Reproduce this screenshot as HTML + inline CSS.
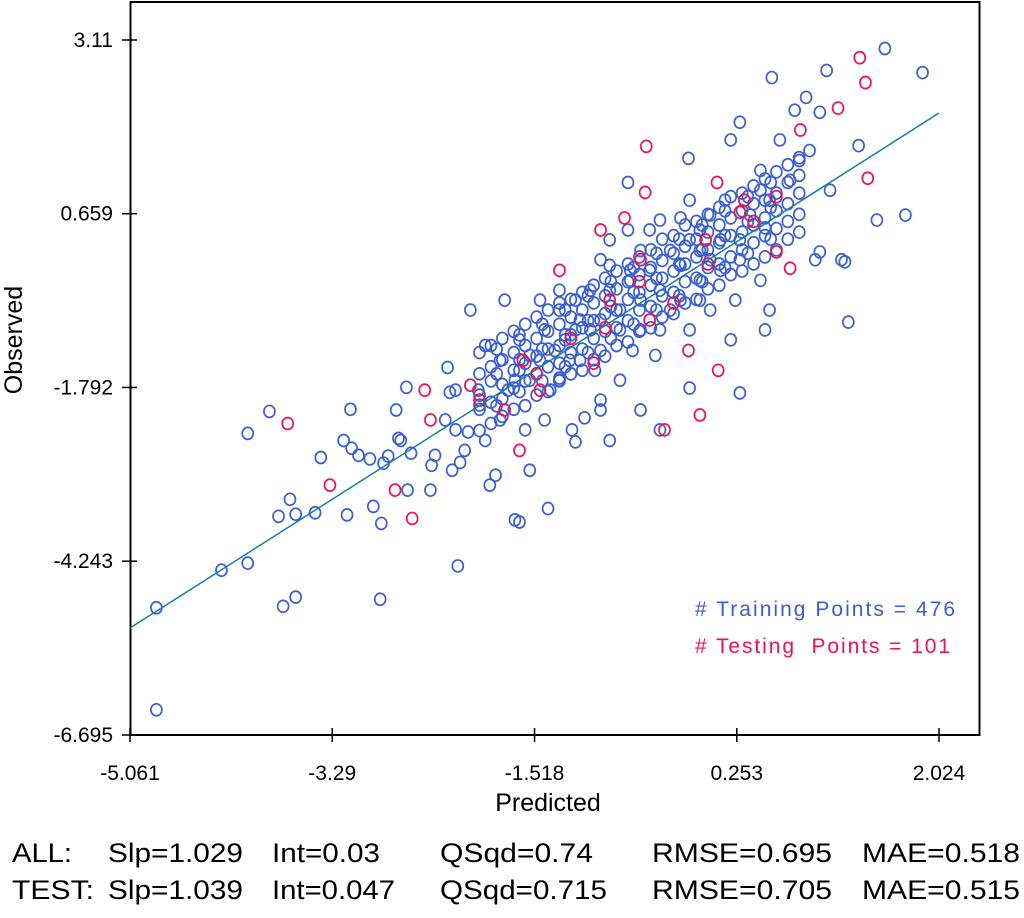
<!DOCTYPE html>
<html><head><meta charset="utf-8"><style>
html,body{margin:0;padding:0;background:#fff;}
body{width:1024px;height:913px;overflow:hidden;font-family:"Liberation Sans",sans-serif;}
svg text{font-family:"Liberation Sans",sans-serif;}
</style></head><body>
<svg id="chart" width="1024" height="913" xmlns="http://www.w3.org/2000/svg"></svg>
<script>
const xTicks=[-5.061,-3.29,-1.518,0.253,2.024];
const yTicks=[3.11,0.659,-1.792,-4.243,-6.695];
const fitLine=[[-5.186,-5.061],[2.08,2.024]]; // [y0,x0],[y1,x1]
const trainX=[-4.83,-4.83,-4.26,-4.03,-4.03,-3.84,-3.72,-3.61,-3.66,-3.76,-3.61,-3.44,-3.39,-3.16,-3.19,-3.13,-3.12,-3.06,-2.96,-2.93,-2.86,-2.87,-2.84,-2.80,-2.73,-2.71,-2.69,-2.64,-2.60,-2.43,-2.42,-2.39,-2.30,-2.28,-2.26,-2.21,-2.19,-2.24,-2.17,-2.13,-2.10,-2.08,-2.01,-2.00,-1.95,-1.95,-1.91,-1.86,-1.82,-1.78,-1.75,-1.69,-1.65,-1.60,-1.56,-1.40,-1.43,-1.38,-1.30,-1.19,-1.16,-1.08,-0.94,-0.86,
1.55,1.88,1.04,0.86,0.56,0.28,0.20,0.76,0.98,0.89,1.32,1.73,1.48,1.20,0.94,1.23,1.17,0.98,0.50,0.28,-0.17,-0.70,-0.24,-0.07,-0.42,-0.16,0.46,0.46,0.50,-0.07,0.02,-0.24,-0.70,-0.86,-1.03,-1.47,-1.43,-1.56,-1.65,-1.25,-1.16,-0.94,-0.59,-0.42,-0.77,-1.12,-1.30,-1.56,-1.69,-2.21,-2.63,-0.66,-0.46,-0.59,-0.94,-1.21,-0.51,-0.33,-0.16,0.11,0.24,0.28,0.15,0.02,-0.07,0.46,0.54,0.20,-0.51,-0.94,-1.16,-1.34,-0.99,-0.77,
-1.30,-1.03,-0.86,-0.68,-0.42,-0.24,-0.07,0.11,0.28,0.37,0.54,0.72,0.80,0.63,1.07,-1.65,-1.47,-1.82,-1.12,-0.77,-0.59,-0.33,-0.16,0.02,-0.16,-0.42,-0.59,-0.86,-1.30,-0.94,-0.68];
const trainY=[-6.34,-4.90,-4.37,-4.27,-2.44,-2.13,-4.88,-4.75,-3.37,-3.61,-3.58,-3.56,-2.78,-3.59,-2.54,-2.10,-2.65,-2.75,-2.80,-3.47,-3.71,-4.78,-2.86,-2.76,-2.11,-2.51,-2.54,-1.79,-2.72,-3.24,-2.89,-2.75,-2.25,-1.51,-1.86,-2.39,-4.31,-2.96,-2.85,-2.68,-2.42,-0.70,-1.83,-2.04,-2.54,-1.20,-3.17,-3.03,-2.25,-0.56,-1.83,-3.66,-3.69,-2.39,-2.96,-3.50,-2.25,-1.83,-1.69,-2.39,-2.56,-2.22,-2.11,-2.54,
2.99,2.65,2.68,2.30,2.58,1.95,1.70,2.12,2.09,1.55,1.62,0.64,0.57,-0.02,0.01,-0.87,0.01,0.12,-0.98,-1.87,1.44,1.10,0.60,-0.56,-2.39,-1.80,1.27,0.99,0.46,0.43,0.01,-0.07,0.43,-0.07,-0.42,-0.56,-0.98,-1.34,-1.12,-1.12,-0.56,-0.84,-0.56,-0.98,-0.98,-1.41,-1.66,-1.69,-1.69,-1.83,-3.24,-1.27,-1.34,-2.11,-1.97,-1.41,-0.14,0.14,0.85,0.29,-0.56,0.01,0.85,0.64,-0.28,-0.28,-0.70,-1.12,0.43,0.01,-0.98,-1.27,-1.55,-1.69,
-0.70,-0.98,-0.42,-0.28,-0.42,-0.56,0.14,-0.14,0.29,0.64,0.85,1.13,1.41,1.70,0.99,-1.55,-1.41,-1.41,-0.84,-0.70,-0.98,-0.70,-0.98,-0.70,0.29,0.57,0.14,0.29,-0.42,-1.27,-0.14];
// dense central band of training points: one x per column, several observed values each
const bandX=[-2.0,-1.9,-1.8,-1.7,-1.6,-1.5,-1.4,-1.3,-1.2,-1.1,-1.0,-0.9,-0.8,-0.7,-0.6,-0.5,-0.4,-0.3,-0.2,-0.1,0.0,0.1,0.2,0.3,0.4,0.5,0.6,0.7,0.8];
const bandY=[[-2.4,-2.1,-1.9,-1.6,-1.3],[-2.3,-2.0,-1.7,-1.5,-1.2],[-2.2,-1.95,-1.75,-1.4,-1.1],[-2.1,-1.8,-1.55,-1.3,-1.0],[-2.05,-1.7,-1.45,-1.2,-0.9],[-1.9,-1.6,-1.35,-1.1,-0.8],[-1.85,-1.5,-1.25,-1.0,-0.7],[-1.7,-1.45,-1.2,-0.9,-0.6],[-1.6,-1.3,-1.05,-0.8,-0.55],[-1.55,-1.25,-0.95,-0.7,-0.45],[-1.4,-1.1,-0.85,-0.6,-0.35],[-1.35,-1.0,-0.75,-0.5,-0.25],[-1.2,-0.95,-0.7,-0.4,-0.15],[-1.15,-0.85,-0.55,-0.3,-0.05],[-1.0,-0.7,-0.45,-0.2,0.05],[-0.95,-0.65,-0.35,-0.1,0.15],[-0.8,-0.5,-0.25,0.0,0.3],[-0.75,-0.45,-0.15,0.1,0.35],[-0.6,-0.3,-0.05,0.2,0.5],[-0.55,-0.25,0.05,0.3,0.55],[-0.4,-0.1,0.15,0.4,0.65],[-0.35,-0.05,0.25,0.5,0.75],[-0.2,0.05,0.35,0.6,0.9],[-0.15,0.15,0.4,0.7,0.95],[-0.05,0.25,0.5,0.8,1.05],[0.05,0.35,0.6,0.85,1.15],[0.15,0.45,0.7,0.95,1.25],[0.3,0.55,0.8,1.1,1.35],[0.4,0.65,0.95,1.2,1.45]];
const band2X=[-1.85,-1.65,-1.45,-1.25,-1.05,-0.85,-0.65,-0.45,-0.25,-0.05,0.15,0.35,0.55];
const band2Y=[[-2.05,-1.6,-1.25],[-1.85,-1.4,-1.05],[-1.7,-1.25,-0.9],[-1.5,-1.05,-0.7],[-1.3,-0.85,-0.5],[-1.1,-0.65,-0.3],[-0.9,-0.45,-0.1],[-0.7,-0.25,0.1],[-0.5,-0.05,0.3],[-0.3,0.15,0.5],[-0.1,0.35,0.7],[0.1,0.55,0.9],[0.3,0.75,1.1]];
const testX=[1.33,1.38,1.14,0.81,1.40,-0.54,-0.55,0.08,0.32,0.28,0.60,0.72,-0.94,-0.73,-1.30,-0.86,-0.51,-0.38,-0.07,0.09,-0.17,-1.47,-1.78,-2.00,-2.08,-2.43,-2.48,-2.74,-2.59,-3.31,-3.68,-1.65,-1.62,-0.59,-0.02,-1.2,-0.9,-0.6,-0.3,0.0,0.4,-1.5,-1.0,0.6];
const testY=[2.86,2.51,2.15,1.84,1.16,1.61,0.96,1.10,0.85,0.68,0.12,-0.11,0.43,0.60,-0.14,-0.56,-0.84,-2.39,-2.18,-1.55,-1.27,-1.83,-2.11,-1.97,-1.76,-2.25,-1.83,-3.24,-3.64,-3.17,-2.30,-2.68,-1.41,0.01,0.29,-1.1,-0.95,-0.3,-0.6,-0.05,0.55,-1.6,-1.45,0.9];

const NS="http://www.w3.org/2000/svg";
const svg=document.getElementById('chart');
const X0=130,X1=939,Y0=735,Y1=40;
function sx(v){return X0+(v-xTicks[0])/(xTicks[4]-xTicks[0])*(X1-X0);}
function sy(v){return Y0-(v-yTicks[4])/(yTicks[0]-yTicks[4])*(Y0-Y1);}
function mk(tag,attrs){const e=document.createElementNS(NS,tag);for(const k in attrs)e.setAttribute(k,attrs[k]);svg.appendChild(e);return e;}

const frame=mk('rect',{x:130.5,y:2,width:849,height:733,fill:'none',stroke:'#000','stroke-width':2});



xTicks.forEach(v=>{
  const t=mk('line',{x1:sx(v),x2:sx(v),y1:728,y2:742,stroke:'#000','stroke-width':1.5});
  
  
  const l=mk('text',{x:sx(v),y:780,'font-size':21,'text-anchor':'middle',fill:'#000'});
  l.textContent=String(v);
  
  
});
yTicks.forEach(v=>{
  const t=mk('line',{x1:122,x2:137,y1:sy(v),y2:sy(v),stroke:'#000','stroke-width':1.5});
  
  
  const l=mk('text',{x:113,y:sy(v)+7,'font-size':21,'text-anchor':'end',fill:'#000'});
  l.textContent=String(v);
  
  
});

function pts(xs,ys,color,name){
  for(let i=0;i<xs.length;i++){
    const c=mk('ellipse',{cx:sx(xs[i]),cy:sy(ys[i]),rx:5.5,ry:6,fill:'none',stroke:color,'stroke-width':1.7});
    
    
  }
}
pts(trainX,trainY,'#3a5fd0','training-point');
bandX.forEach((x,i)=>pts(bandY[i].map(()=>x),bandY[i],'#3a5fd0','training-point'));
band2X.forEach((x,i)=>pts(band2Y[i].map(()=>x),band2Y[i],'#3a5fd0','training-point'));
pts(testX,testY,'#f0105a','testing-point');

const fl=mk('line',{x1:sx(fitLine[0][1]),y1:sy(fitLine[0][0]),x2:sx(fitLine[1][1]),y2:sy(fitLine[1][0]),stroke:'#1a7aa8','stroke-width':1.5});



const lg1=mk('text',{x:695,y:616,'font-size':21,fill:'#3a5fd0',textLength:260});
lg1.textContent='# Training Points = 476';


const lg2=mk('text',{x:695,y:653,'font-size':21,fill:'#f0105a',textLength:255});
lg2.setAttribute('style','white-space:pre');
lg2.textContent='# Testing  Points = 101';



const xt=mk('text',{x:548,y:811,'font-size':25,'text-anchor':'middle',fill:'#000'});
xt.textContent='Predicted';


const yt=mk('text',{x:0,y:0,'font-size':25,'text-anchor':'middle',fill:'#000',transform:'translate(22,340) rotate(-90)'});
yt.textContent='Observed';



const rows=[['ALL:','Slp=1.029','Int=0.03','QSqd=0.74','RMSE=0.695','MAE=0.518'],['TEST:','Slp=1.039','Int=0.047','QSqd=0.715','RMSE=0.705','MAE=0.515']];
const widths=[[60,135,108,153,180,158],[82,135,123,167,180,158]];
const colX=[12,108,272,440,652,862];
rows.forEach((r,ri)=>{
  r.forEach((s,ci)=>{
    const t=mk('text',{x:colX[ci],y:862+ri*37,'font-size':27,fill:'#000',textLength:widths[ri][ci],lengthAdjust:'spacingAndGlyphs'});
    t.textContent=s;
    
    
  });
});
</script>
</body></html>
